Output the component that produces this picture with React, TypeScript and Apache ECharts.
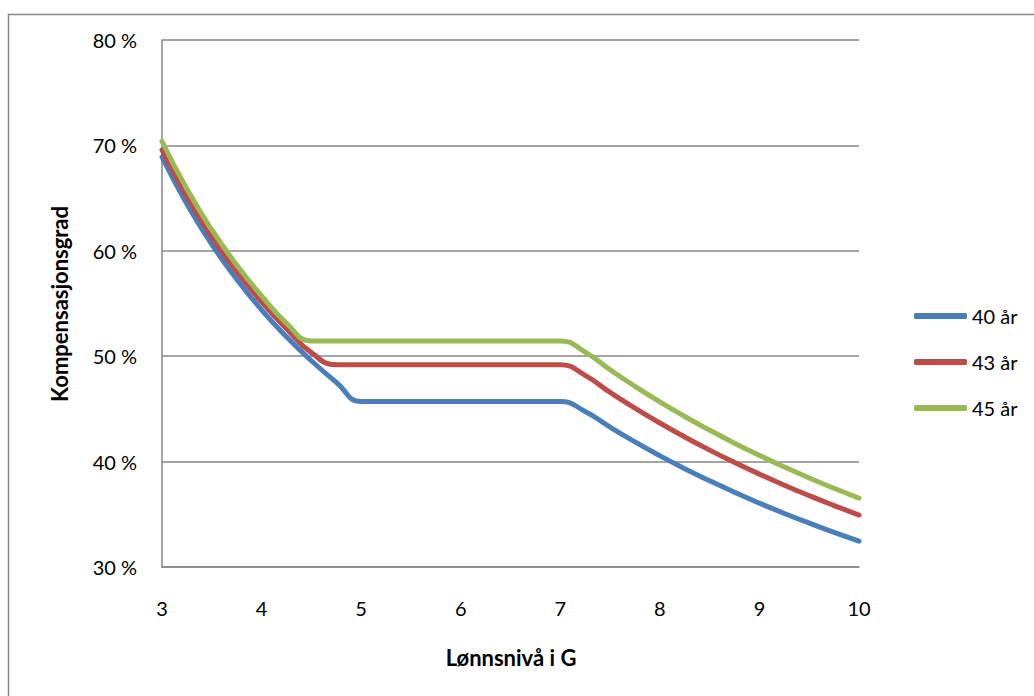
import React, { useEffect, useRef } from "react";
import * as echarts from "echarts";

// Salary level in G (grunnbeløp)
const salaryLevels = [
  3, 3.25, 3.5, 3.75, 4, 4.25, 4.5, 4.75, 5, 5.25, 5.5, 5.75, 6, 6.25, 6.5, 6.75, 7,
  7.25, 7.5, 7.75, 8, 8.25, 8.5, 8.75, 9, 9.25, 9.5, 9.75, 10,
];

// Compensation rate (%) by years of service
const rate40 = [
  68.9, 64.44, 60.61, 57.3, 54.4, 51.84, 49.57, 47.53, 45.7, 45.7, 45.7, 45.7, 45.7, 45.7, 45.7, 45.7, 45.7,
  44.76, 43.27, 41.87, 40.56, 39.33, 38.18, 37.09, 36.06, 35.08, 34.16, 33.28, 32.45,
];
const rate43 = [
  69.57, 65.13, 61.33, 58.03, 55.15, 52.61, 50.34, 49.2, 49.2, 49.2, 49.2, 49.2, 49.2, 49.2, 49.2, 49.2, 49.2,
  48.18, 46.57, 45.07, 43.66, 42.34, 41.09, 39.92, 38.81, 37.76, 36.77, 35.83, 34.93,
];
const rate45 = [
  70.37, 65.86, 62.0, 58.65, 55.73, 53.14, 51.45, 51.45, 51.45, 51.45, 51.45, 51.45, 51.45, 51.45, 51.45, 51.45, 51.45,
  50.39, 48.71, 47.14, 45.66, 44.28, 42.98, 41.75, 40.59, 39.49, 38.45, 37.47, 36.53,
];

const seriesNames = ["40 år", "43 år", "45 år"];
const seriesColors = ["#4A7EBB", "#BE4B48", "#98B954"];
const seriesValues = [rate40, rate43, rate45];

const yTicks = { min: 30, max: 80, interval: 10 };
const xTicks = { min: 3, max: 10, interval: 1 };

const FONT = "Lato, 'Open Sans', sans-serif";
const GREY = "#868686";

export default function App() {
  const ref = useRef<HTMLDivElement>(null);

  useEffect(() => {
    if (!ref.current) return;
    const chart = echarts.init(ref.current, undefined, { renderer: "svg" });

    const series = seriesValues.map((vals, i) => ({
      name: seriesNames[i],
      type: "line",
      data: salaryLevels.map((x, j) => [x, vals[j]]),
      smooth: 0.5,
      showSymbol: false,
      symbol: "none",
      color: seriesColors[i],
      lineStyle: { width: 5, color: seriesColors[i], cap: "round", join: "round" },
      z: 3 + i,
    }));

    chart.setOption({
      animation: false,
      backgroundColor: "#fff",
      textStyle: { fontFamily: FONT },
      grid: { left: 162, top: 40, right: 175, bottom: 129, containLabel: false },
      xAxis: {
        type: "value",
        min: xTicks.min,
        max: xTicks.max,
        interval: xTicks.interval,
        axisLine: { show: true, lineStyle: { color: GREY, width: 1.5 } },
        axisTick: { show: false },
        splitLine: { show: false },
        axisLabel: { color: "#000", fontSize: 20, fontFamily: FONT, margin: 31 },
      },
      yAxis: {
        type: "value",
        min: yTicks.min,
        max: yTicks.max,
        interval: yTicks.interval,
        axisLine: { show: true, lineStyle: { color: GREY, width: 1.5 } },
        axisTick: { show: false },
        splitLine: { show: true, lineStyle: { color: GREY, width: 1.5 } },
        axisLabel: {
          color: "#000",
          fontSize: 20,
          fontFamily: FONT,
          margin: 25,
          formatter: (v: number) => `${v} %`,
        },
      },
      legend: {
        orient: "vertical",
        left: 909,
        top: 300,
        itemWidth: 53,
        itemHeight: 6,
        itemGap: 24,
        icon: "roundRect",
        data: seriesNames,
        textStyle: { color: "#000", fontSize: 20, fontFamily: FONT, lineHeight: 22 },
      },
      graphic: [
        {
          type: "rect",
          shape: { x: 8.5, y: 14.5, width: 1200, height: 900 },
          style: { fill: "none", stroke: GREY, lineWidth: 1.5 },
          silent: true,
          z: -1,
        },
        {
          type: "text",
          x: 59,
          y: 304,
          rotation: Math.PI / 2,
          style: {
            text: "Kompensasjonsgrad",
            fontSize: 22,
            fontWeight: "bold",
            fontFamily: FONT,
            fill: "#000",
            align: "center",
            verticalAlign: "middle",
          },
        },
        {
          type: "text",
          x: 511,
          y: 657,
          style: {
            text: "Lønnsnivå i G",
            fontSize: 22,
            fontWeight: "bold",
            fontFamily: FONT,
            fill: "#000",
            align: "center",
            verticalAlign: "middle",
          },
        },
      ],
      series,
    });

    return () => chart.dispose();
  }, []);

  return (
    <div
      ref={ref}
      style={{ position: "absolute", left: 0, top: 0, width: 1034, height: 696 }}
    />
  );
}
